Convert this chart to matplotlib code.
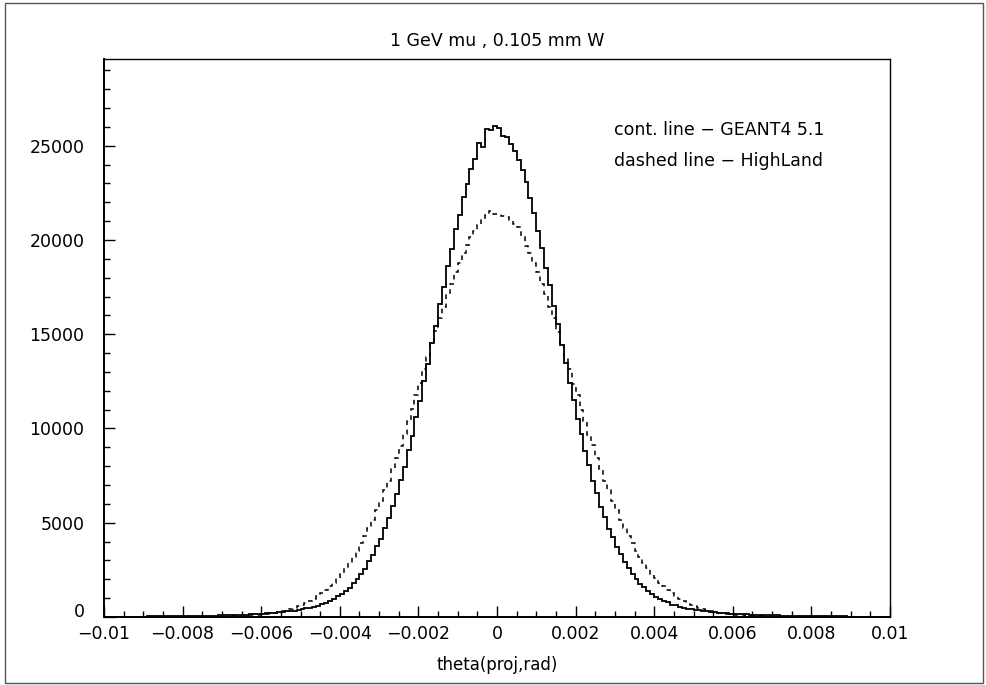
import numpy as np
import matplotlib
matplotlib.use("Agg")
import matplotlib.pyplot as plt
import matplotlib.transforms as mtransforms
from matplotlib.ticker import MultipleLocator, FixedLocator

# ---------------- data ----------------
title = "1 GeV mu , 0.105 mm W"
xlabel = "theta(proj,rad)"
legend_lines = ["cont. line \u2212 GEANT4 5.1", "dashed line \u2212 HighLand"]

x_min, x_max, n_bins = -0.01, 0.01, 200

# GEANT4 5.1 histogram (solid), 200 bins from -0.01 to 0.01
geant4_left = [
    14, 16, 18, 17, 19, 21, 20, 23, 22, 25,
    25, 28, 28, 32, 32, 36, 36, 41, 41, 46,
    47, 52, 53, 58, 60, 66, 68, 75, 78, 85,
    88, 96, 100, 110, 114, 126, 132, 147, 154, 171,
    178, 200, 210, 236, 248, 278, 292, 326, 342, 388,
    408, 456, 490, 552, 596, 682, 744, 856, 944, 1090,
    1205, 1395, 1550, 1790, 1995, 2300, 2565, 2950, 3280, 3750,
    4160, 4740, 5230, 5910, 6500, 7290, 7960, 8860, 9610, 10600,
    11450, 12520, 13410, 14530, 15450, 16590, 17500, 18620, 19500, 20560,
    21350, 22300, 22980, 23740, 24300, 25150, 24950, 25900, 25820, 26030,
]
geant4_right = [
    25960, 25500, 25480, 25100, 24700, 24250, 23700, 23050, 22200, 21450,
    20450, 19600, 18520, 17600, 16480, 15520, 14420, 13480, 12420, 11530,
    10520, 9700, 8780, 8040, 7210, 6570, 5840, 5300, 4680, 4220,
    3700, 3330, 2900, 2610, 2260, 2040, 1750, 1590, 1360, 1230,
    1060, 970, 830, 770, 660, 620, 530, 500, 440, 420,
    370, 360, 310, 305, 265, 260, 225, 220, 190, 185,
    165, 160, 140, 138, 120, 118, 104, 102, 92, 90,
    82, 80, 71, 70, 63, 60, 55, 54, 49, 47,
    44, 43, 39, 38, 34, 34, 30, 30, 27, 26,
    24, 23, 22, 21, 20, 19, 18, 17, 16, 15,
]

# HighLand histogram (dashed)
highland_left = [
    0, 0, 0, 0, 0, 0, 0, 0, 0, 0,
    0, 0, 0, 0, 0, 0, 1, 1, 1, 2,
    2, 3, 4, 5, 6, 7, 9, 11, 14, 17,
    21, 26, 32, 38, 46, 56, 67, 80, 96, 114,
    136, 161, 190, 223, 262, 307, 358, 416, 483, 558,
    640, 745, 845, 975, 1105, 1265, 1425, 1625, 1815, 2060,
    2290, 2580, 2860, 3200, 3520, 3910, 4290, 4740, 5160, 5680,
    6150, 6720, 7240, 7860, 8430, 9090, 9700, 10400, 11030, 11760,
    12400, 13140, 13790, 14530, 15150, 15870, 16460, 17150, 17680, 18300,
    18780, 19320, 19720, 20170, 20470, 20810, 21100, 21300, 21550, 21400,
]
highland_right = [
    21380, 21250, 21200, 21050, 20850, 20700, 20180, 19700, 19330, 18760,
    18310, 17660, 17150, 16440, 15880, 15130, 14540, 13760, 13150, 12380,
    11770, 11000, 10410, 9680, 9100, 8410, 7870, 7230, 6720, 6140,
    5680, 5160, 4740, 4290, 3910, 3520, 3190, 2860, 2580, 2290,
    2060, 1820, 1620, 1425, 1265, 1105, 975, 845, 745, 640,
    560, 480, 418, 356, 308, 260, 224, 188, 162, 135,
    115, 95, 81, 66, 56, 46, 38, 31, 26, 21,
    17, 14, 11, 9, 7, 6, 5, 4, 3, 2,
    2, 1, 1, 1, 0, 0, 0, 0, 0, 0,
    0, 0, 0, 0, 0, 0, 0, 0, 0, 0,
]

geant4 = np.array(geant4_left + geant4_right, dtype=float)
highland = np.array(highland_left + highland_right, dtype=float)

x_ticks = [-0.01, -0.008, -0.006, -0.004, -0.002, 0, 0.002, 0.004, 0.006, 0.008, 0.01]
x_tick_labels = ["\u22120.01", "\u22120.008", "\u22120.006", "\u22120.004", "\u22120.002",
                 "0", "0.002", "0.004", "0.006", "0.008", "0.01"]
y_ticks = [0, 5000, 10000, 15000, 20000, 25000]
y_tick_labels = ["0", "5000", "10000", "15000", "20000", "25000"]
y_max = 29600

# ---------------- plot ----------------
plt.rcParams['font.family'] = ['DejaVu Sans']
W, H = 986, 685
fig = plt.figure(figsize=(W / 100, H / 100), dpi=100)
fig.patch.set_facecolor("white")

ax = fig.add_axes([104 / W, 1 - 617 / H, (890 - 104) / W, (617 - 59) / H])
edges = np.linspace(x_min, x_max, n_bins + 1)
ax.stairs(geant4, edges, color="black", lw=1.3, baseline=None)
ax.stairs(highland, edges, color="black", lw=1.1, baseline=None,
          linestyle=(0, (3.0, 3.0)))

ax.set_xlim(x_min, x_max)
ax.set_ylim(0, y_max)

for s in ["top", "right"]:
    ax.spines[s].set_linewidth(1.0)
for s in ["left", "bottom"]:
    ax.spines[s].set_linewidth(1.4)

ax.xaxis.set_major_locator(FixedLocator(x_ticks))
ax.set_xticklabels(x_tick_labels)
ax.xaxis.set_minor_locator(MultipleLocator(0.0005))
ax.yaxis.set_major_locator(FixedLocator(y_ticks))
ax.set_yticklabels(y_tick_labels)
ax.yaxis.set_minor_locator(MultipleLocator(1000))

ax.tick_params(axis="x", which="major", direction="in", length=8, width=1.0,
               labelsize=12.5, pad=6, top=False)
ax.tick_params(axis="x", which="minor", direction="in", length=4.5, width=1.0, top=False)
ax.tick_params(axis="y", which="major", direction="in", length=8, width=1.0,
               labelsize=12.5, pad=14, right=False)
ax.tick_params(axis="y", which="minor", direction="in", length=4.5, width=1.0, right=False)

# lift the "0" y label slightly so it clears the x tick labels (as in the reference)
zero_lbl = ax.get_yticklabels()[0]
zero_lbl.set_transform(zero_lbl.get_transform() +
                       mtransforms.ScaledTranslation(0, 5 / 72, fig.dpi_scale_trans))

ax.set_title(title, fontsize=12.5, pad=9)
ax.set_xlabel(xlabel, fontsize=12, labelpad=9)

ax.text(614 / W, 1 - 130 / H, legend_lines[0], transform=fig.transFigure,
        fontsize=12.5, va="center", ha="left")
ax.text(614 / W, 1 - 161 / H, legend_lines[1], transform=fig.transFigure,
        fontsize=12.5, va="center", ha="left")

# outer frame
frame = plt.Rectangle((5 / W, 2 / H), (983 - 5) / W, (682 - 2) / H,
                      transform=fig.transFigure, fill=False, edgecolor="#555555", lw=1.0)
fig.add_artist(frame)

fig.savefig("out.png", dpi=100)
